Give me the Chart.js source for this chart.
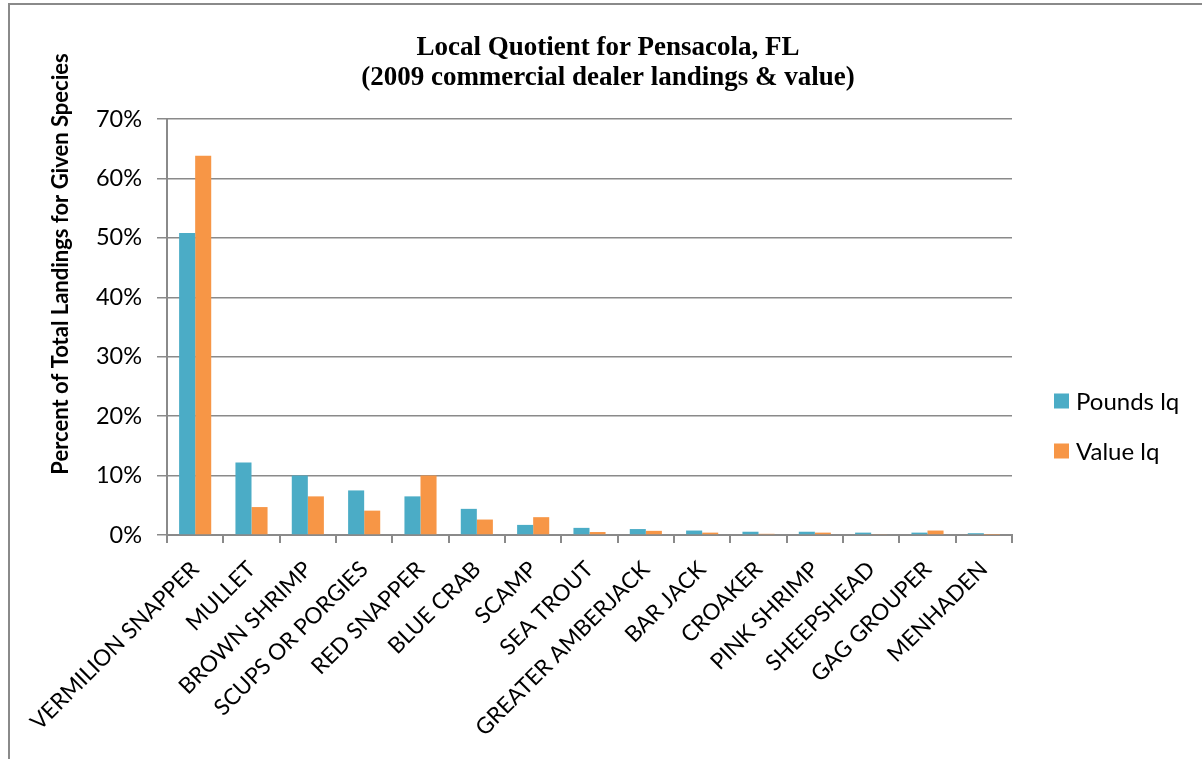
<!DOCTYPE html>
<html>
<head>
<meta charset="utf-8">
<script src="https://cdn.jsdelivr.net/npm/chart.js@4.4.1/dist/chart.umd.min.js"></script>
<style>
  html, body { margin: 0; padding: 0; background: #fff; }
  #wrap { position: relative; width: 1202px; height: 759px; }
  #frame { position: absolute; left: 8px; top: 3px; right: 0; bottom: 0;
           border-top: 2px solid #8a8a8a; border-left: 2px solid #8a8a8a; pointer-events: none; }
  canvas { position: absolute; left: 0; top: 0; }
</style>
</head>
<body>
<div id="wrap">
  <canvas id="c" width="1202" height="759"></canvas>
  <div id="frame"></div>
</div>
<script>
const titleLines = ["Local Quotient for Pensacola, FL", "(2009 commercial dealer landings & value)"];
const yAxisTitle = "Percent of Total Landings for Given Species";
const categories = ["VERMILION SNAPPER", "MULLET", "BROWN SHRIMP", "SCUPS OR PORGIES", "RED SNAPPER",
  "BLUE CRAB", "SCAMP", "SEA TROUT", "GREATER AMBERJACK", "BAR JACK", "CROAKER",
  "PINK SHRIMP", "SHEEPSHEAD", "GAG GROUPER", "MENHADEN"];
const poundsLq = [50.8, 12.2, 10.0, 7.5, 6.5, 4.4, 1.7, 1.2, 1.0, 0.75, 0.55, 0.55, 0.4, 0.4, 0.3];
const valueLq  = [63.8, 4.7, 6.5, 4.1, 10.0, 2.6, 3.0, 0.5, 0.7, 0.4, 0.2, 0.4, 0.15, 0.75, 0.05];
const seriesNames = ["Pounds lq", "Value lq"];
const yTicks = [0, 10, 20, 30, 40, 50, 60, 70];

const GRID = "#8a8a8a";
const SANS = "Lato, 'Open Sans', sans-serif";
const SERIF = "'Liberation Serif', 'Times New Roman', serif";

const extras = {
  id: "extras",
  afterDraw(chart) {
    const ctx = chart.ctx;
    // chart title
    ctx.save();
    ctx.font = "bold 27px " + SERIF;
    ctx.fillStyle = "#000";
    ctx.textAlign = "center";
    ctx.textBaseline = "alphabetic";
    titleLines.forEach((t, i) => ctx.fillText(t, 608, 55 + i * 29.5));
    ctx.restore();
    // y-axis title
    ctx.save();
    ctx.translate(61, 264);
    ctx.rotate(-Math.PI / 2);
    ctx.font = "bold 22px " + SANS;
    ctx.fillStyle = "#000";
    ctx.textAlign = "center";
    ctx.textBaseline = "middle";
    ctx.fillText(yAxisTitle, 0, 0);
    ctx.restore();
    // legend
    ctx.save();
    ctx.font = "24px " + SANS;
    ctx.textBaseline = "middle";
    ctx.textAlign = "left";
    chart.data.datasets.forEach((ds, i) => {
      const cy = 401 + i * 50;
      ctx.fillStyle = ds.backgroundColor;
      ctx.fillRect(1054, cy - 7.5, 15, 15);
      ctx.fillStyle = "#000";
      ctx.fillText(ds.label, 1076, cy + 1);
    });
    ctx.restore();
  }
};

new Chart(document.getElementById("c"), {
  type: "bar",
  data: {
    labels: categories,
    datasets: [
      { label: seriesNames[0], data: poundsLq, backgroundColor: "#4BACC6", borderWidth: 0 },
      { label: seriesNames[1], data: valueLq, backgroundColor: "#F79646", borderWidth: 0 }
    ]
  },
  options: {
    responsive: false,
    animation: false,
    devicePixelRatio: 1,
    layout: { padding: { left: 0, right: 190, top: 119, bottom: 0 } },
    datasets: { bar: { barPercentage: 1.0, categoryPercentage: 0.57 } },
    plugins: {
      legend: { display: false },
      tooltip: { enabled: false },
      title: { display: false }
    },
    scales: {
      x: {
        afterFit(scale) { scale.height = 224; },
        grid: { display: true, drawOnChartArea: false, drawTicks: true, tickLength: 8, color: GRID, lineWidth: 2, offset: true },
        border: { display: true, color: GRID, width: 2 },
        ticks: { color: "#000", font: { family: SANS, size: 22.5 }, maxRotation: 45, minRotation: 45, autoSkip: false, padding: 13 }
      },
      y: {
        min: 0, max: 70,
        afterFit(scale) { scale.width = 167; },
        afterBuildTicks(scale) { scale.ticks = yTicks.map(v => ({ value: v })); },
        grid: { color: GRID, lineWidth: 1.5, tickLength: 10, drawTicks: true },
        border: { display: true, color: GRID, width: 2 },
        ticks: { color: "#000", font: { family: SANS, size: 23.5 }, padding: 15, callback: v => v + "%" }
      }
    }
  },
  plugins: [extras]
});
</script>
</body>
</html>
